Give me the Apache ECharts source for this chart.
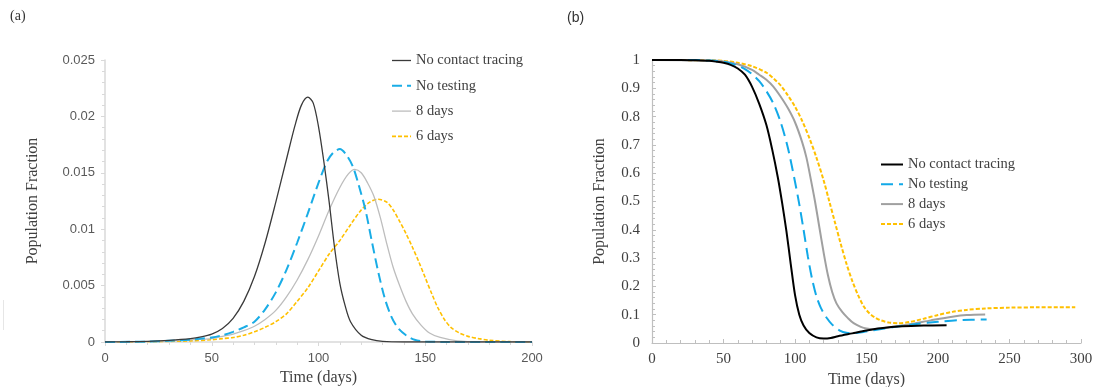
<!DOCTYPE html>
<html>
<head>
<meta charset="utf-8">
<script src="https://cdn.jsdelivr.net/npm/echarts@6/dist/echarts.min.js"></script>
<style>html,body{margin:0;padding:0;background:#fff}#c{width:1094px;height:387px}</style>
</head>
<body>
<div id="c"></div>
<script>
const seriesNames = ['No contact tracing', 'No testing', '8 days', '6 days'];

// ---------- Panel (a): daily fraction ----------
const aBlackX = [0,10,20,30,40,45,50,55,60,65,70,75,80,85,89,92,95,97.5,100,102.5,105,107.5,110,112.5,115,120,125,130,140,200];
const aBlackY = [0,0.00002,0.00006,0.00015,0.0003,0.00045,0.0007,0.0012,0.0021,0.0036,0.0058,0.0088,0.0124,0.0162,0.0192,0.021,0.0217,0.0212,0.0191,0.016,0.0124,0.0084,0.0052,0.0032,0.0018,0.0006,0.0002,0.00005,0,0];

const aBlueX = [0,20,30,40,45,50,55,60,65,70,75,80,85,90,95,100,104,107,110,113,116,119,122,125,128,131,134,137,141,145,150,160,200];
const aBlueY = [0,0.00003,0.0001,0.0002,0.0003,0.0004,0.0006,0.0009,0.0013,0.0018,0.0029,0.0044,0.0064,0.0088,0.0114,0.0141,0.016,0.0168,0.0171,0.0166,0.0156,0.0138,0.0117,0.0089,0.0062,0.0039,0.0023,0.0013,0.0006,0.0002,0.00005,0,0];

const aGrayX = [0,20,30,40,50,55,60,65,70,75,80,85,90,95,100,105,110,114,117,120,123,126,129,132,135,138,141,144,148,152,157,165,175,200];
const aGrayY = [0,0.00003,0.0001,0.0002,0.0003,0.0005,0.0007,0.001,0.0014,0.002,0.0028,0.004,0.0055,0.0073,0.0094,0.0117,0.0137,0.0149,0.0153,0.015,0.0141,0.0129,0.011,0.0087,0.0066,0.005,0.0036,0.0025,0.0015,0.0008,0.0004,0.0001,0,0];

const aYellowX = [0,20,30,40,50,55,60,65,70,75,80,85,90,95,100,105,110,115,120,124,128,132,135,138,141,144,147,150,153,156,159,162,166,170,175,180,190,200];
const aYellowY = [0,0.00002,0.00005,0.0001,0.0002,0.0003,0.0004,0.0006,0.0009,0.0013,0.0018,0.0025,0.0036,0.0048,0.0063,0.0078,0.009,0.0104,0.0117,0.0124,0.01265,0.0124,0.0117,0.0107,0.0096,0.0084,0.0071,0.0057,0.0043,0.003,0.002,0.0013,0.0008,0.0005,0.0003,0.00015,0.00003,0];

// ---------- Panel (b): population fraction ----------
const bBlackX = [0,10,20,30,40,45,50,55,60,65,70,75,80,84,88,91,94,97,100,103,106,110,115,120,125,130,140,150,160,175,190,206];
const bBlackY = [1,1,1,0.999,0.997,0.994,0.99,0.983,0.97,0.948,0.905,0.845,0.77,0.685,0.585,0.495,0.395,0.28,0.17,0.1,0.062,0.035,0.02,0.016,0.018,0.024,0.034,0.044,0.052,0.059,0.062,0.063];

const bBlueX = [0,30,40,50,55,60,65,70,75,80,85,90,95,100,103,106,109,112,115,118,122,126,131,136,141,148,155,170,185,200,215,234];
const bBlueY = [1,1,0.998,0.994,0.988,0.98,0.968,0.95,0.925,0.89,0.845,0.78,0.69,0.57,0.49,0.4,0.305,0.225,0.165,0.125,0.09,0.065,0.045,0.036,0.035,0.039,0.045,0.057,0.067,0.075,0.081,0.083];

const bGrayX = [0,40,50,60,70,75,80,85,90,95,100,105,108,111,114,117,120,123,126,129,133,137,141,146,150,155,165,180,195,210,220,233];
const bGrayY = [1,0.998,0.995,0.985,0.965,0.948,0.93,0.905,0.87,0.83,0.78,0.71,0.655,0.58,0.5,0.41,0.32,0.24,0.18,0.14,0.11,0.088,0.07,0.057,0.051,0.049,0.055,0.066,0.08,0.093,0.099,0.101];

const bYellowX = [0,40,50,60,70,80,85,90,95,100,105,110,115,120,124,128,132,136,140,144,148,152,156,160,166,172,180,190,200,210,220,233,250,270,296];
const bYellowY = [1,0.999,0.997,0.99,0.978,0.955,0.935,0.91,0.875,0.835,0.785,0.725,0.655,0.575,0.5,0.425,0.35,0.28,0.22,0.17,0.13,0.105,0.09,0.08,0.072,0.07,0.074,0.086,0.099,0.11,0.117,0.122,0.125,0.126,0.126];

// ---------- axis ticks ----------
const aXTicks = {min: 0, max: 200, interval: 50};
const aYTicks = {min: 0, max: 0.025, interval: 0.005};
const bXTicks = {min: 0, max: 300, interval: 50};
const bYTicks = {min: 0, max: 1, interval: 0.1};

function zip(xs, ys) { return xs.map((x, i) => [x, ys[i]]); }

const serif = '"Liberation Serif", "Times New Roman", serif';
const sans = '"Liberation Sans", Arial, sans-serif';

const aStyles = [
  {color: '#3a3a3a', width: 1.3, type: 'solid'},
  {color: '#1aade6', width: 2, type: [10, 5]},
  {color: '#bdbdbd', width: 1.3, type: 'solid'},
  {color: '#ffc000', width: 1.6, type: [4, 2]}
];
const bStyles = [
  {color: '#000000', width: 2, type: 'solid'},
  {color: '#12a9e8', width: 2, type: [12, 6]},
  {color: '#a0a0a0', width: 2, type: 'solid'},
  {color: '#ffc000', width: 2, type: [4, 2]}
];
const aData = [zip(aBlackX, aBlackY), zip(aBlueX, aBlueY), zip(aGrayX, aGrayY), zip(aYellowX, aYellowY)];
const bData = [zip(bBlackX, bBlackY), zip(bBlueX, bBlueY), zip(bGrayX, bGrayY), zip(bYellowX, bYellowY)];

const series = [];
seriesNames.forEach((n, i) => {
  series.push({name: n, type: 'line', xAxisIndex: 0, yAxisIndex: 0, data: aData[i],
    showSymbol: false, symbol: 'none', smooth: 0.3, lineStyle: aStyles[i], itemStyle: {color: aStyles[i].color},
    animation: false, z: 10 - i});
});
seriesNames.forEach((n, i) => {
  series.push({name: n, type: 'line', xAxisIndex: 1, yAxisIndex: 1, data: bData[i],
    showSymbol: false, symbol: 'none', smooth: 0.3, lineStyle: bStyles[i], itemStyle: {color: bStyles[i].color},
    animation: false, z: 10 - i});
});

const chart = echarts.init(document.getElementById('c'), null, {renderer: 'canvas'});
chart.setOption({
  backgroundColor: '#ffffff',
  animation: false,
  grid: [
    {left: 105, right: 562, top: 60, bottom: 45, containLabel: false, outerBoundsMode: 'none'},
    {left: 652, right: 13, top: 60, bottom: 44, containLabel: false, outerBoundsMode: 'none'}
  ],
  legend: [
    {orient: 'vertical', left: 386, top: 48, itemWidth: 19, itemHeight: 14, itemGap: 10.3,
     selectedMode: false,
     textStyle: {fontFamily: serif, fontSize: 14.5, color: '#404040'},
     data: seriesNames.map((n, i) => ({name: n, lineStyle: aStyles[i], itemStyle: {opacity: 0, color: aStyles[i].color}}))},
    {orient: 'vertical', left: 875, top: 152, itemWidth: 22, itemHeight: 14, itemGap: 4.8,
     selectedMode: false,
     textStyle: {fontFamily: serif, fontSize: 14.5, color: '#404040'},
     data: seriesNames.map((n, i) => ({name: n, lineStyle: bStyles[i], itemStyle: {opacity: 0, color: bStyles[i].color}}))}
  ],
  xAxis: [
    {type: 'value', gridIndex: 0, min: aXTicks.min, max: aXTicks.max, interval: aXTicks.interval,
     name: 'Time (days)', nameLocation: 'middle', nameGap: 28,
     nameTextStyle: {fontFamily: serif, fontSize: 16, color: '#404040'},
     axisLine: {show: true, lineStyle: {color: '#d9d9d9', width: 1.5}},
     axisTick: {show: true, inside: false, length: 4, lineStyle: {color: '#d9d9d9'}},
     minorTick: {show: true, splitNumber: 5, length: 3, lineStyle: {color: '#d9d9d9'}},
     splitLine: {show: false},
     axisLabel: {fontFamily: sans, fontSize: 13, color: '#595959', margin: 10}},
    {type: 'value', gridIndex: 1, min: bXTicks.min, max: bXTicks.max, interval: bXTicks.interval,
     name: 'Time (days)', nameLocation: 'middle', nameGap: 28,
     nameTextStyle: {fontFamily: serif, fontSize: 16, color: '#404040'},
     axisLine: {show: true, lineStyle: {color: '#bfbfbf', width: 1.2}},
     axisTick: {show: true, inside: true, length: 4, lineStyle: {color: '#bfbfbf'}},
     minorTick: {show: true, splitNumber: 5, length: 3, lineStyle: {color: '#bfbfbf'}},
     splitLine: {show: false},
     axisLabel: {fontFamily: serif, fontSize: 15, color: '#404040', margin: 9}}
  ],
  yAxis: [
    {type: 'value', gridIndex: 0, min: aYTicks.min, max: aYTicks.max, interval: aYTicks.interval,
     name: 'Population Fraction', nameLocation: 'middle', nameGap: 64,
     nameTextStyle: {fontFamily: serif, fontSize: 16, color: '#404040'},
     axisLine: {show: true, lineStyle: {color: '#d9d9d9', width: 1.5}},
     axisTick: {show: true, inside: false, length: 4, lineStyle: {color: '#d9d9d9'}},
     minorTick: {show: true, splitNumber: 5, length: 3, lineStyle: {color: '#d9d9d9'}},
     splitLine: {show: false},
     axisLabel: {fontFamily: sans, fontSize: 13, color: '#595959', margin: 10,
       formatter: v => String(+v.toFixed(3))}},
    {type: 'value', gridIndex: 1, min: bYTicks.min, max: bYTicks.max, interval: bYTicks.interval,
     name: 'Population Fraction', nameLocation: 'middle', nameGap: 44,
     nameTextStyle: {fontFamily: serif, fontSize: 16, color: '#404040'},
     axisLine: {show: true, lineStyle: {color: '#bfbfbf', width: 1.2}},
     axisTick: {show: true, inside: true, length: 4, lineStyle: {color: '#bfbfbf'}},
     minorTick: {show: true, splitNumber: 5, length: 3, lineStyle: {color: '#bfbfbf'}},
     splitLine: {show: false},
     axisLabel: {fontFamily: serif, fontSize: 15, color: '#404040', margin: 12,
       formatter: v => String(+v.toFixed(1))}}
  ],
  graphic: [
    {type: 'text', left: 10, top: 9, style: {text: '(a)', fontFamily: serif, fontSize: 14, fill: '#333'}},
    {type: 'text', left: 567, top: 11, style: {text: '(b)', fontFamily: sans, fontSize: 14, fill: '#333'}},
    {type: 'line', shape: {x1: 3.5, y1: 300, x2: 3.5, y2: 330}, style: {stroke: '#e6e6e6', lineWidth: 1}}
  ],
  series: series
});
</script>
</body>
</html>
